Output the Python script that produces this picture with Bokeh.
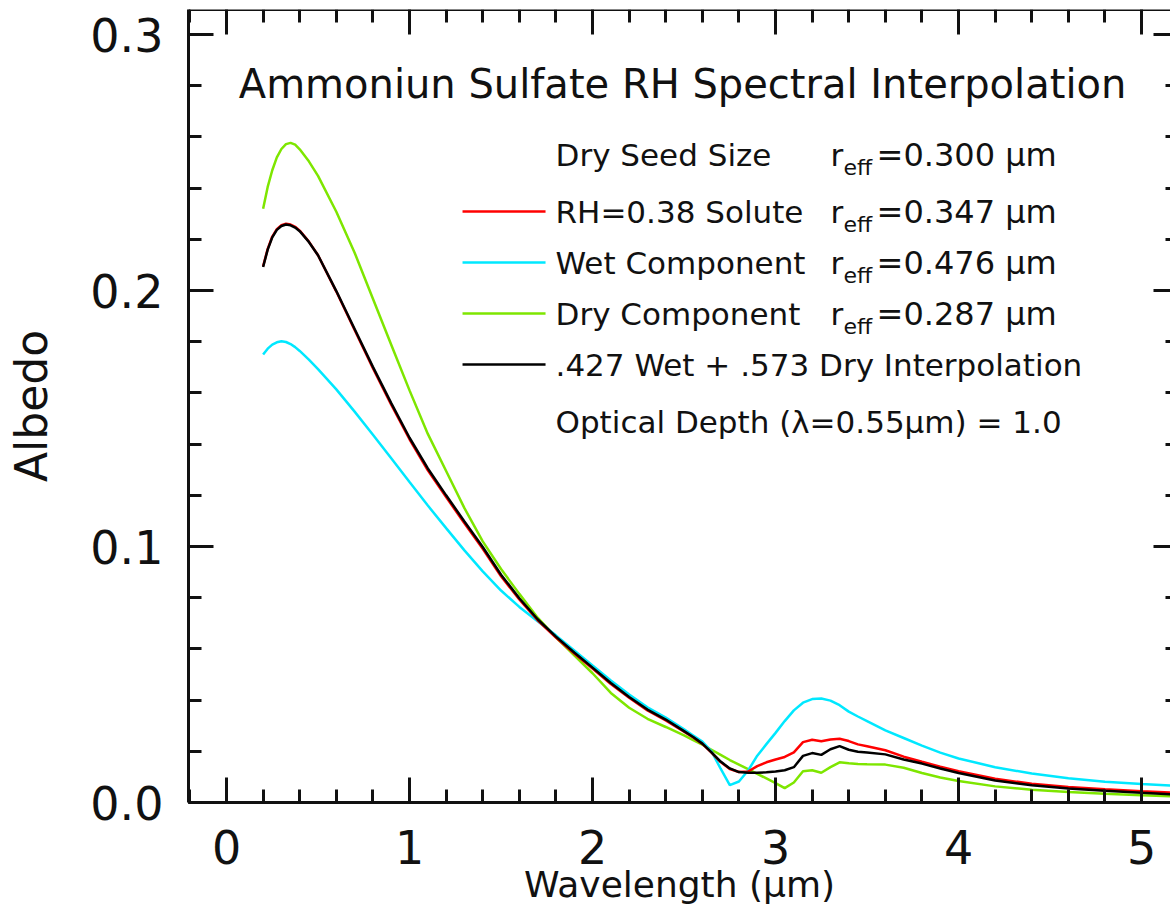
from bokeh.plotting import figure
from bokeh.models import LinearAxis, SingleIntervalTicker, Range1d, NumeralTickFormatter
from bokeh.embed import file_html
from bokeh.resources import INLINE
from bokeh.core.properties import value

# ---------------- data ----------------
wavelength = [0.200, 0.225, 0.250, 0.275, 0.300, 0.325, 0.350, 0.375, 0.400, 0.450,
              0.50, 0.60, 0.70, 0.80, 0.90,
              1.00, 1.10, 1.20, 1.30, 1.40, 1.50, 1.60, 1.70, 1.80, 1.90,
              2.00, 2.10, 2.20, 2.30, 2.40, 2.50, 2.55, 2.60, 2.65, 2.70,
              2.75, 2.80, 2.85, 2.90, 2.95, 3.00, 3.05, 3.10, 3.15, 3.20,
              3.25, 3.30, 3.35, 3.40, 3.45, 3.50, 3.60, 3.70, 3.80, 3.90,
              4.00, 4.20, 4.40, 4.60, 4.80, 5.00, 5.20]

dry_component = [0.2320, 0.2405, 0.2470, 0.2520, 0.2553, 0.2572, 0.2577, 0.2570, 0.2552, 0.2505,
                 0.2448, 0.2308, 0.2148, 0.1968, 0.1788,
                 0.1610, 0.1440, 0.1295, 0.1150, 0.1020, 0.0912, 0.0815, 0.0722, 0.0645, 0.0575,
                 0.0505, 0.0428, 0.0370, 0.0327, 0.0295, 0.0262, 0.0244, 0.0226, 0.0206, 0.0186,
                 0.0166, 0.0148, 0.0130, 0.0112, 0.0094, 0.0076, 0.0056, 0.0078, 0.0122, 0.0126,
                 0.0116, 0.0138, 0.0157, 0.0153, 0.0150, 0.0149, 0.0148, 0.0136, 0.0115, 0.0098,
                 0.0084, 0.0063, 0.0050, 0.0041, 0.0034, 0.0028, 0.0024]

interpolation = [0.2092, 0.2160, 0.2208, 0.2237, 0.2252, 0.2258, 0.2255, 0.2246, 0.2232, 0.2190,
                 0.2138, 0.1998, 0.1850, 0.1702, 0.1560,
                 0.1425, 0.1305, 0.1200, 0.1098, 0.0998, 0.0890, 0.0798, 0.0716, 0.0648, 0.0586,
                 0.0527, 0.0467, 0.0412, 0.0363, 0.0324, 0.0279, 0.0256, 0.0230, 0.0196, 0.0160,
                 0.0133, 0.0119, 0.0116, 0.0116, 0.0118, 0.0121, 0.0126, 0.0138, 0.0182, 0.0193,
                 0.0186, 0.0208, 0.0220, 0.0206, 0.0198, 0.0195, 0.0188, 0.0168, 0.0152, 0.0133,
                 0.0115, 0.0086, 0.0067, 0.0055, 0.0046, 0.0038, 0.0031]

rh_solute = [0.2095, 0.2163, 0.2211, 0.2240, 0.2255, 0.2261, 0.2258, 0.2249, 0.2234, 0.2191,
             0.2138, 0.1996, 0.1846, 0.1697, 0.1554,
             0.1419, 0.1298, 0.1193, 0.1091, 0.0991, 0.0884, 0.0793, 0.0712, 0.0644, 0.0582,
             0.0523, 0.0463, 0.0409, 0.0360, 0.0321, 0.0277, 0.0254, 0.0229, 0.0195, 0.0158,
             0.0131, 0.0119, 0.0121, 0.0142, 0.0157, 0.0168, 0.0178, 0.0196, 0.0236, 0.0245,
             0.0239, 0.0246, 0.0249, 0.0240, 0.0227, 0.0220, 0.0204, 0.0179, 0.0159, 0.0140,
             0.0122, 0.0093, 0.0073, 0.0061, 0.0052, 0.0044, 0.0038]

wet_component = [0.1750, 0.1773, 0.1789, 0.1798, 0.1802, 0.1799, 0.1791, 0.1779, 0.1764, 0.1730,
                 0.1693, 0.1614, 0.1527, 0.1437, 0.1345,
                 0.1252, 0.1160, 0.1072, 0.0985, 0.0903, 0.0828, 0.0764, 0.0708, 0.0653, 0.0594,
                 0.0535, 0.0477, 0.0422, 0.0372, 0.0332, 0.0286, 0.0262, 0.0238, 0.0200, 0.0132,
                 0.0068, 0.0082, 0.0125, 0.0183, 0.0228, 0.0272, 0.0318, 0.0360, 0.0390, 0.0404,
                 0.0406, 0.0398, 0.0380, 0.0355, 0.0336, 0.0318, 0.0282, 0.0252, 0.0222, 0.0195,
                 0.0172, 0.0138, 0.0113, 0.0095, 0.0081, 0.0072, 0.0065]

title_text = "Ammoniun Sulfate RH Spectral Interpolation"
row_labels = ["Dry Seed Size", "RH=0.38 Solute", "Wet Component", "Dry Component"]
row_values = ["=0.300 \u03bcm", "=0.347 \u03bcm", "=0.476 \u03bcm", "=0.287 \u03bcm"]
interp_label = ".427 Wet + .573 Dry Interpolation"
depth_label = "Optical Depth (\u03bb=0.55\u03bcm) = 1.0"
x_title = "Wavelength (\u03bcm)"
y_title = "Albedo"

RED, CYAN, GREEN, BLACK = "#ff0000", "#00e8ff", "#7ee600", "#000000"
FONT = "DejaVu Sans"

# ---------------- figure ----------------
X0, X1 = -0.2077, 5.158
Y0, Y1 = 0.0, 0.3098
p = figure(frame_width=982, frame_height=793,
           x_range=Range1d(X0, X1), y_range=Range1d(Y0, Y1),
           x_axis_location=None, y_axis_location=None,
           output_backend="svg", toolbar_location=None,
           min_border_left=188, min_border_top=9, min_border_right=0, min_border_bottom=0)
p.outline_line_color = None
p.grid.visible = False
p.background_fill_color = "white"


def style_axis(ax, major_in, minor_in, show_line=True):
    ax.major_tick_in = major_in
    ax.major_tick_out = 0
    ax.minor_tick_in = minor_in
    ax.minor_tick_out = 0
    ax.major_tick_line_width = 3
    ax.minor_tick_line_width = 3
    ax.major_tick_line_color = "#111111"
    ax.minor_tick_line_color = "#111111"
    ax.axis_line_width = 3
    ax.axis_line_color = "#111111" if show_line else None
    ax.major_label_text_font = FONT
    ax.major_label_text_color = "#111111"
    ax.axis_label_text_font = FONT
    ax.axis_label_text_font_style = "normal"
    ax.axis_label_text_color = "#111111"


def no_labels(ax):
    ax.major_label_text_color = None
    ax.major_label_text_font_size = "1px"
    ax.major_label_standoff = 0
    ax.axis_label = None


xb = LinearAxis(ticker=SingleIntervalTicker(interval=1, num_minor_ticks=5), axis_label=x_title)
style_axis(xb, 25, 13)
xb.major_label_text_font_size = "46px"
xb.major_label_standoff = 27
xb.axis_label_text_font_size = "36px"
xb.axis_label_standoff = -3
p.add_layout(xb, "below")

xt = LinearAxis(ticker=SingleIntervalTicker(interval=1, num_minor_ticks=5), fixed_location=Y1)
style_axis(xt, 25, 13)
no_labels(xt)
p.add_layout(xt, "above")

yl = LinearAxis(ticker=SingleIntervalTicker(interval=0.1, num_minor_ticks=5), axis_label=y_title,
                formatter=NumeralTickFormatter(format="0.0"))
style_axis(yl, 25, 13)
yl.major_label_text_font_size = "46px"
yl.major_label_standoff = 25
yl.axis_label_text_font_size = "44px"
yl.axis_label_standoff = 30
p.add_layout(yl, "left")

yr = LinearAxis(ticker=SingleIntervalTicker(interval=0.1, num_minor_ticks=5), fixed_location=X1)
style_axis(yr, 17, 5, show_line=False)
no_labels(yr)
p.add_layout(yr, "right")

# ---------------- curves ----------------
p.line(wavelength, dry_component, line_color=GREEN, line_width=2.5)
p.line(wavelength, wet_component, line_color=CYAN, line_width=2.5)
p.line(wavelength, rh_solute, line_color=RED, line_width=2.5)
p.line(wavelength, interpolation, line_color=BLACK, line_width=2.5)

# ---------------- annotations (positions given in reference pixels) ----------------
def px(xp):
    return (xp - 228.0) / 183.0


def py(yp):
    return (803.0 - yp) / 2560.0


p.text(x=[px(684)], y=[py(84)], text=[title_text], text_align="center", text_baseline="middle",
       text_font=value(FONT), text_font_size="40px", text_color="#111111")

row_y = [155, 212, 263, 314, 365, 422]
main_x, main_y, main_t = [], [], []
for i in range(4):
    main_x += [px(557), px(832)]
    main_y += [py(row_y[i])] * 2
    main_t += [row_labels[i], "r"]
main_x += [px(557), px(557)]
main_y += [py(row_y[4]), py(row_y[5])]
main_t += [interp_label, depth_label]
p.text(x=main_x, y=main_y, text=main_t, text_align="left", text_baseline="middle",
       text_font=value(FONT), text_font_size="31px", text_color="#111111")
p.text(x=[px(878)] * 4, y=[py(r) for r in row_y[:4]], text=row_values,
       text_align="left", text_baseline="middle",
       text_font=value(FONT), text_font_size="32px", text_color="#111111")
p.text(x=[px(845)] * 4, y=[py(r + 13) for r in row_y[:4]], text=["eff"] * 4,
       text_align="left", text_baseline="middle",
       text_font=value(FONT), text_font_size="22px", text_color="#111111")

sw_colors = [RED, CYAN, GREEN, BLACK]
p.segment(x0=[px(464)] * 4, y0=[py(r) for r in row_y[1:5]],
          x1=[px(547)] * 4, y1=[py(r) for r in row_y[1:5]],
          line_color=sw_colors, line_width=2.5)

open("out.html", "w").write(file_html(p, INLINE))
